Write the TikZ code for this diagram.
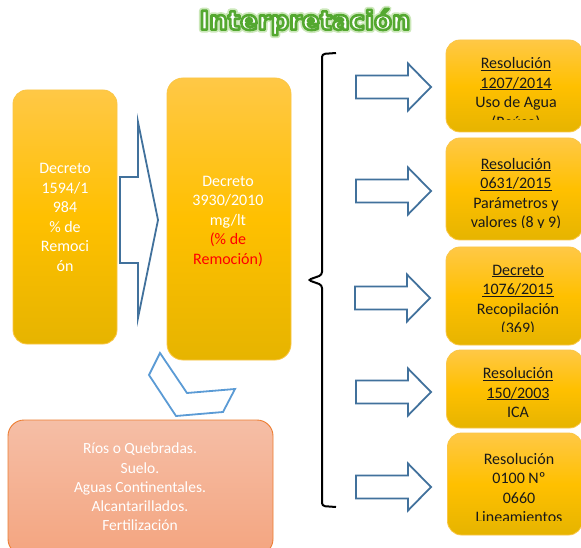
\documentclass[tikz,border=0pt]{standalone}
\usepackage{fontspec}
\setmainfont{Carlito}
\newfontfamily\titlefont{DejaVu Sans}
\definecolor{ytop}{RGB}{255,200,70}
\definecolor{ymid}{RGB}{255,192,0}
\definecolor{ybot}{RGB}{230,180,0}
\definecolor{yedge}{RGB}{250,198,70}
\definecolor{otop}{RGB}{245,190,166}
\definecolor{obot}{RGB}{244,165,128}
\definecolor{oedge}{RGB}{237,125,49}
\definecolor{darkblue}{RGB}{65,113,156}
\definecolor{lightblue}{RGB}{91,155,213}
% underlined line that keeps a regular line height
\newcommand\uln[1]{\underline{\smash{#1}}\vphantom{A}}
% outlined lettering: white fill, green stroke, with a soft green halo behind
\newcommand\glowtext[1]{\special{pdf:literal direct 2 Tr 6 w 1 J 1 j 0.80 0.91 0.73 RG 0.80 0.91 0.73 rg}#1\special{pdf:literal direct 0 Tr 0 0 0 rg 0 0 0 RG}}
\newcommand\outlinetext[1]{\special{pdf:literal direct 2 Tr 2.6 w 1 j 0.33 0.66 0.19 RG 1 1 1 rg}#1\special{pdf:literal direct 0 Tr 0 0 0 rg 0 0 0 RG}}
\tikzset{
  ybox/.style={rounded corners=14pt, draw=yedge, line width=0.8pt,
    top color=ytop, bottom color=ybot, middle color=ymid, inner sep=0pt},
  obox/.style={rounded corners=16pt, draw=oedge, line width=0.9pt,
    top color=otop, bottom color=obot, inner sep=0pt},
  wtext/.style={text=white, align=center, font=\fontsize{16}{19.5}\selectfont},
  btext/.style={text=black!90, align=center, font=\fontsize{16}{19.5}\selectfont},
  arrowline/.style={draw=darkblue, line width=1.8pt, fill=white, line join=miter},
  harrow/.pic={\path[arrowline] (-75,-11.5) -- (-23,-11.5) -- (-23,-23.5) -- (0,0)
      -- (-23,23.5) -- (-23,11.5) -- (-75,11.5) -- cycle;}
}
\begin{document}
\begin{tikzpicture}[x=1pt,y=-1pt]
\clip (0,0) rectangle (581,548);
\fill[white] (0,0) rectangle (581,548);

% title
\node (title) at (305,22) {\titlefont\bfseries\fontsize{26}{30}\selectfont
  \rlap{\glowtext{Interpretación}}\outlinetext{Interpretación}};

% large arrow between the two decrees
\path[arrowline] (120,177) -- (138,177) -- (138,122) -- (158,220) -- (138,318)
  -- (138,263) -- (120,263) -- cycle;

% left decrees
\node[ybox, minimum width=104pt, minimum height=254pt] (d1594) at (65,217) {};
\node[wtext] (d1594t) at (65,217.5) {Decreto\\1594/1\\984\\\% de\\Remoci\\ón};
\node[ybox, rounded corners=16pt, minimum width=124pt, minimum height=282pt] (d3930) at (229,219) {};
\node[wtext] (d3930t) at (228,221) {Decreto\\3930/2010\\mg/lt\\\textcolor{red}{(\% de}\\\textcolor{red}{Remoción)}};

% chevron pointing to the uses
\path[draw=lightblue, line width=1.8pt, fill=white, line join=miter]
  (160,353) -- (187,393) -- (235,389) -- (223,412) -- (176,416) -- (149,375) -- cycle;

% uses box
\node[obox, minimum width=265pt, minimum height=135pt] (usos) at (140.5,487.5) {};
\node[wtext, font=\fontsize{15.5}{19.2}\selectfont] (usost) at (140,487)
  {Ríos o Quebradas.\\Suelo.\\Aguas Continentales.\\Alcantarillados.\\Fertilización};

% brace
\draw[line width=2pt, rounded corners=3pt] (336,53) -- (322,54) -- (322,275) -- (308,280)
  -- (322,285) -- (322,506) -- (336,507);

% arrows to the regulations
\pic at (431,87) {harrow};
\pic at (431,191) {harrow};
\pic at (430,298) {harrow};
\pic at (431,392) {harrow};
\pic at (431,487) {harrow};

% regulations
\node[ybox, minimum width=137pt, minimum height=92pt] (r1207) at (514.5,86) {};
\begin{scope}
\clip (440,40) rectangle (590,120);
\node[btext] (r1207t) at (516,94) {\uln{Resolución}\\\uln{1207/2014}\\Uso de Agua\\(Reúso)};
\end{scope}

\node[ybox, minimum width=137pt, minimum height=102pt] (r0631) at (514.5,189) {};
\begin{scope}
\clip (440,138) rectangle (590,228);
\node[btext] (r0631t) at (516,194.5) {\uln{Resolución}\\\uln{0631/2015}\\Parámetros y\\valores (8 y 9)};
\end{scope}

\node[ybox, minimum width=137pt, minimum height=98pt] (d1076) at (514.5,296) {};
\begin{scope}
\clip (440,247) rectangle (590,331);
\node[btext] (d1076t) at (518,300.5) {\uln{Decreto}\\\uln{1076/2015}\\Recopilación\\(369)};
\end{scope}

\node[ybox, minimum width=137pt, minimum height=78pt] (r150) at (515,389) {};
\node[btext] (r150t) at (518,393) {\uln{Resolución}\\\uln{150/2003}\\ICA};

\node[ybox, minimum width=135pt, minimum height=102pt] (r0100) at (515,484) {};
\begin{scope}
\clip (440,433) rectangle (590,520);
\node[btext] (r0100t) at (519,488) {Resolución\\0100 Nº\\0660\\Lineamientos};
\end{scope}
\end{tikzpicture}
\end{document}
